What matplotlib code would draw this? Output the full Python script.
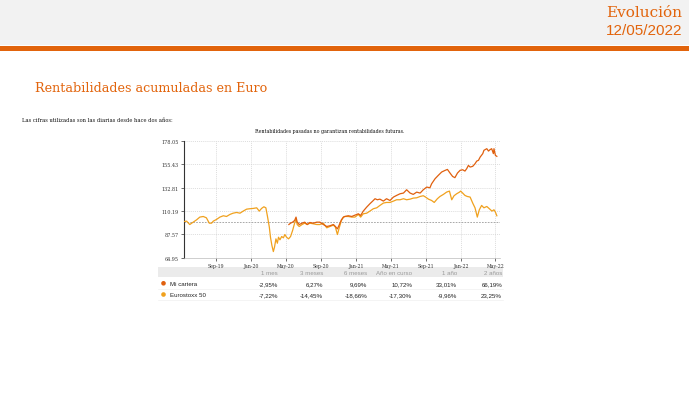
import matplotlib
matplotlib.use("Agg")
import matplotlib.pyplot as plt
import pandas as pd
from matplotlib.patches import Rectangle, Circle

# ---------------- data ----------------
start_date = "2019-05-13"
euro_days = [0, 9, 20, 32, 44, 55, 67, 78, 88, 96, 102, 113, 125, 137, 148, 160, 171, 183, 195, 206,
             218, 229, 241, 253, 262, 270, 278, 285, 291, 297, 301, 306, 311, 315, 320, 325, 329, 334,
             340, 346, 351, 357, 364, 371, 378, 385, 390, 394, 401, 411, 420, 429, 438, 450, 462, 473,
             485, 497, 508, 520, 527, 534, 541, 548, 555, 560, 572, 584, 595, 607, 615, 624, 636, 647,
             659, 671, 682, 694, 705, 717, 729, 740, 752, 764, 775, 787, 798, 810, 822, 833, 841, 851,
             862, 871, 882, 891, 903, 914, 924, 932, 940, 949, 959, 963, 970, 978, 986, 996, 1005, 1013,
             1021, 1028, 1036, 1044, 1054, 1063, 1072, 1079, 1084, 1089]
euro_vals = [100.0, 100.4, 97.1, 99.4, 101.7, 104.3, 104.9, 103.6, 98.4, 98.4, 100.4, 102.0, 104.3, 105.6,
             104.9, 106.9, 108.1, 108.8, 108.1, 110.1, 112.0, 112.4, 112.7, 113.3, 110.1, 112.7, 114.3,
             113.3, 104.3, 94.6, 84.8, 76.8, 70.9, 75.1, 83.2, 79.0, 84.8, 82.3, 85.5, 84.2, 87.4, 84.8,
             83.2, 85.5, 91.3, 98.4, 102.6, 97.1, 95.2, 97.1, 98.4, 97.1, 98.4, 97.8, 97.1, 97.1, 98.4,
             93.9, 95.2, 96.5, 94.6, 87.4, 94.6, 101.0, 104.3, 104.9, 104.9, 104.3, 104.3, 106.9, 104.3,
             107.5, 108.1, 110.1, 112.4, 113.3, 115.6, 117.9, 118.5, 118.5, 119.8, 121.1, 121.1, 122.1,
             121.1, 121.7, 122.7, 123.0, 124.3, 125.0, 123.7, 121.7, 120.4, 118.5, 122.1, 124.3, 126.3,
             128.5, 129.5, 121.1, 125.0, 126.9, 128.5, 129.5, 127.6, 125.3, 124.3, 123.7, 117.9, 113.3,
             104.3, 111.4, 115.6, 113.3, 114.6, 112.4, 110.1, 111.4, 109.1, 105.6]

cart_days = [365, 371, 378, 385, 390, 394, 401, 411, 420, 429, 438, 450, 462, 473, 485, 497, 508, 520,
             527, 534, 541, 548, 555, 560, 572, 584, 595, 607, 615, 624, 636, 647, 659, 665, 673, 682,
             694, 705, 717, 729, 740, 752, 764, 775, 787, 798, 810, 822, 833, 845, 856, 862, 874, 885,
             897, 909, 917, 926, 935, 943, 952, 961, 970, 978, 984, 990, 996, 1005, 1013, 1019, 1025,
             1031, 1040, 1044, 1054, 1060, 1065, 1071, 1077, 1079, 1084, 1089]
cart_vals = [97.1, 98.4, 99.4, 101.0, 104.3, 99.4, 97.1, 98.4, 99.4, 97.1, 99.1, 98.4, 99.4, 99.4, 97.1,
             95.2, 95.9, 97.1, 95.2, 92.9, 97.1, 101.7, 104.3, 104.9, 105.6, 104.9, 106.2, 107.5, 105.9,
             110.1, 114.0, 117.2, 120.4, 122.1, 121.1, 121.7, 119.8, 122.1, 120.4, 123.7, 125.3, 126.9,
             127.6, 130.8, 127.6, 126.3, 128.5, 127.6, 130.8, 133.4, 132.7, 136.6, 141.5, 144.7, 148.0,
             149.6, 150.5, 147.0, 143.7, 142.5, 147.0, 149.6, 150.2, 148.9, 151.2, 154.4, 152.8, 153.5,
             156.0, 158.6, 159.3, 162.5, 165.8, 169.0, 170.6, 168.3, 169.6, 170.6, 165.8, 170.6, 164.1,
             163.2]

y_ticks = [64.95, 87.57, 110.19, 132.81, 155.43, 178.05]
x_tick_dates = ["2019-09-01", "2020-01-01", "2020-05-01", "2020-09-01", "2021-01-01",
                "2021-05-01", "2021-09-01", "2022-01-01", "2022-05-01"]
x_tick_labels = ["Sep-19", "Jan-20", "May-20", "Sep-20", "Jan-21", "May-21", "Sep-21", "Jan-22", "May-22"]

table_cols = ["1 mes", "3 meses", "6 meses", "Año en curso", "1 año", "2 años"]
series_names = ["Mi cartera", "Eurostoxx 50"]
table_vals = [["-2,95%", "6,27%", "9,69%", "10,72%", "33,01%", "66,19%"],
              ["-7,22%", "-14,45%", "-18,66%", "-17,30%", "-9,96%", "23,25%"]]

# ---------------- style ----------------
ORANGE = "#e2640c"
C_CART = "#e0600e"
C_EURO = "#f0a11e"
W, H = 689, 406

fig = plt.figure(figsize=(W / 100, H / 100), dpi=100)
fig.patch.set_facecolor("white")

# background / layout axes in pixel coordinates
bg = fig.add_axes([0, 0, 1, 1])
bg.set_xlim(0, W)
bg.set_ylim(H, 0)
bg.axis("off")

bg.add_patch(Rectangle((0, 0), W, 46, facecolor="#f2f2f2", edgecolor="none"))
bg.add_patch(Rectangle((0, 46.5), W, 5, facecolor=ORANGE, edgecolor="none"))
bg.text(682, 13, "Evolución", ha="right", va="center", fontsize=11, color=ORANGE,
        family="DejaVu Serif")
bg.text(682, 31, "12/05/2022", ha="right", va="center", fontsize=11, color=ORANGE,
        family="Liberation Sans")
bg.text(35, 88, "Rentabilidades acumuladas en Euro", ha="left", va="center", fontsize=9.2,
        color=ORANGE, family="DejaVu Serif")
bg.text(22, 121, "Las cifras utilizadas son las diarias desde hace dos años:", ha="left",
        va="center", fontsize=3.7, color="#111111", family="DejaVu Serif")
bg.text(330, 132, "Rentabilidades pasadas no garantizan rentabilidades futuras.", ha="center",
        va="center", fontsize=3.4, color="#111111", family="DejaVu Serif")

# table
bg.add_patch(Rectangle((158, 268), 345, 10, facecolor="#ebebeb", edgecolor="none"))
col_right = [278, 323, 367, 412, 457, 502]
for cx, c in zip(col_right, table_cols):
    bg.text(cx, 273.3, c, ha="right", va="center", fontsize=4.4, color="#9a9a9a",
            family="Liberation Sans")
row_y = [284.3, 295.5]
dot_colors = [C_CART, C_EURO]
for ry, name, vals, dc in zip(row_y, series_names, table_vals, dot_colors):
    bg.add_patch(Circle((163.5, ry), 2.3, facecolor=dc, edgecolor="none"))
    bg.text(170, ry, name, ha="left", va="center", fontsize=4.4, color="#222222",
            family="Liberation Sans")
    for cx, v in zip(col_right, vals):
        bg.text(cx, ry, v, ha="right", va="center", fontsize=4.4, color="#222222",
                family="Liberation Sans")
    bg.plot([158, 503], [ry + 5.6, ry + 5.6], color="#f0f0f0", lw=0.5)

# ---------------- chart ----------------
t0 = pd.Timestamp(start_date)
euro_x = t0 + pd.to_timedelta(euro_days, unit="D")
cart_x = t0 + pd.to_timedelta(cart_days, unit="D")

ax = fig.add_axes([184 / W, 1 - 258.7 / H, (500 - 184) / W, (258.7 - 142) / H])
ax.patch.set_alpha(0)
ax.set_xlim(t0, t0 + pd.Timedelta(days=1100))
ax.set_ylim(y_ticks[0], y_ticks[-1])

ax.plot(euro_x, euro_vals, color=C_EURO, lw=0.9, zorder=3)
ax.plot(cart_x, cart_vals, color=C_CART, lw=0.9, zorder=4)
ax.axhline(100, color="#9a9a9a", lw=0.6, ls=(0, (2, 1.5)), zorder=2)

ax.set_yticks(y_ticks)
ax.set_yticklabels([f"{v:.2f}" for v in y_ticks])
ax.set_xticks(pd.to_datetime(x_tick_dates))
ax.set_xticklabels(x_tick_labels)
ax.grid(True, color="#d0d0d0", lw=0.5, ls=(0, (1.5, 1.5)))
ax.tick_params(axis="y", labelsize=3.5, length=2.5, width=0.5, pad=1.5, colors="#333333")
ax.tick_params(axis="x", labelsize=3.3, length=2, width=0.5, pad=1.5, colors="#333333",
               direction="out")
for s in ["top", "right"]:
    ax.spines[s].set_visible(False)
ax.spines["left"].set_color("#333333")
ax.spines["left"].set_linewidth(0.8)
ax.spines["bottom"].set_color("#bbbbbb")
ax.spines["bottom"].set_linewidth(0.5)
for lab in ax.get_xticklabels() + ax.get_yticklabels():
    lab.set_family("DejaVu Serif")

fig.savefig("out.png", dpi=100, facecolor="white")
